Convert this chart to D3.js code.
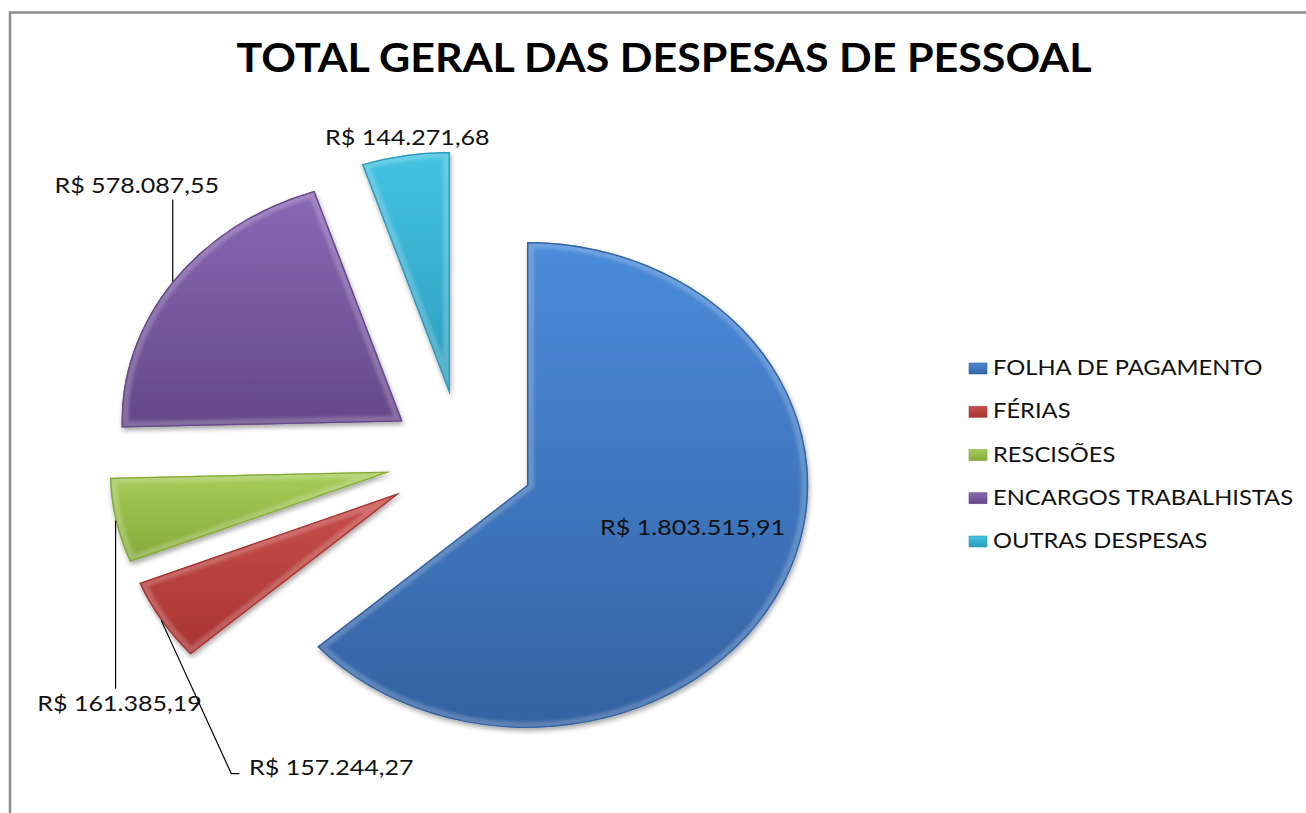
<!DOCTYPE html>
<html>
<head>
<meta charset="utf-8">
<script src="https://cdn.jsdelivr.net/npm/d3@7"></script>
<style>
  body { margin: 0; background: #fff; }
  text { font-family: Lato, "Open Sans", sans-serif; }
</style>
</head>
<body>
<svg id="chart"></svg>
<script>
// data
var categories = ["FOLHA DE PAGAMENTO", "FÉRIAS", "RESCISÕES", "ENCARGOS TRABALHISTAS", "OUTRAS DESPESAS"];
var values = [1803515.91, 157244.27, 161385.19, 578087.55, 144271.68];
var topColors = ["#4b8bdb", "#c8504c", "#a6cc58", "#8a68b4", "#45c3e2"];
var bottomColors = ["#3462a2", "#a83432", "#84aa3a", "#654889", "#2c9cbd"];
var title = "TOTAL GERAL DAS DESPESAS DE PESSOAL";

var width = 1306, height = 813;
var svg = d3.select("#chart").attr("width", width).attr("height", height);

var ptBR = d3.formatLocale({decimal: ",", thousands: ".", grouping: [3], currency: ["R$ ", ""]});
var money = ptBR.format("$,.2f");

// frame (only left and top edges are visible)
svg.append("rect").attr("x", 10).attr("y", 12.5)
   .attr("width", 1400).attr("height", 900)
   .attr("fill", "none").attr("stroke", "#8c8c8c").attr("stroke-width", 2.5);

// title
svg.append("text").attr("x", 664).attr("y", 72)
   .attr("text-anchor", "middle")
   .attr("font-size", 41).attr("font-weight", "bold")
   .attr("textLength", 855).attr("lengthAdjust", "spacingAndGlyphs")
   .attr("fill", "#000").text(title);

// defs: gradients, shadow, blur
var defs = svg.append("defs");
categories.forEach(function(c, i){
        var g = defs.append("linearGradient").attr("id", "grad" + i)
                .attr("x1", 0).attr("y1", 0).attr("x2", 0).attr("y2", 1);
        g.append("stop").attr("offset", "0%").attr("stop-color", topColors[i]);
        g.append("stop").attr("offset", "100%").attr("stop-color", bottomColors[i]);
});
var shadow = defs.append("filter").attr("id", "shadow")
        .attr("x", "-10%").attr("y", "-10%").attr("width", "130%").attr("height", "130%");
shadow.append("feDropShadow").attr("dx", 1).attr("dy", 3)
        .attr("stdDeviation", 2.5).attr("flood-color", "#000").attr("flood-opacity", 0.35);
defs.append("filter").attr("id", "soft").append("feGaussianBlur").attr("stdDeviation", 1.6);

// pie layout: ellipse (stretched horizontally), every slice exploded
var R = 243;             // vertical radius
var SX = 1.157;          // horizontal stretch of the pie
var cx = 461.4, cy = 458.6;
var explode = 64.5, explodeX = 1.115;

var pie = d3.pie().sort(null).value(d => d)(values);
var arc = d3.arc().innerRadius(0).outerRadius(R);

var slices = pie.map(function(p, i){
        var mid = (p.startAngle + p.endAngle) / 2;
        var ax = cx + explode * explodeX * Math.sin(mid);
        var ay = cy - explode * Math.cos(mid);
        return {p: p, i: i, mid: mid, ax: ax, ay: ay,
                ox: ax + R * SX * Math.sin(mid), oy: ay - R * Math.cos(mid)};
});

var pieG = svg.append("g").attr("class", "pie");
slices.forEach(function(s){
        var g = pieG.append("g")
                .attr("transform", "translate(" + s.ax + "," + s.ay + ") scale(" + SX + ",1)");
        var d = arc(s.p);
        defs.append("clipPath").attr("id", "clip" + s.i).append("path").attr("d", d);
        g.append("path").attr("d", d)
                .attr("fill", "url(#grad" + s.i + ")")
                .attr("filter", "url(#shadow)");
        // bevel highlight (inner band) and darker rim
        g.append("path").attr("d", d)
                .attr("clip-path", "url(#clip" + s.i + ")")
                .attr("fill", "none").attr("stroke", "#fff").attr("stroke-opacity", 0.2)
                .attr("stroke-width", 12).attr("filter", "url(#soft)");
        g.append("path").attr("d", d)
                .attr("clip-path", "url(#clip" + s.i + ")")
                .attr("fill", "none").attr("stroke", bottomColors[s.i])
                .attr("stroke-width", 2.5);
});

// data labels: offsets of the label (middle, baseline) from the outer mid point of each slice
var labelOffsets = [[-91, -49], [170, 154], [4, 190], [-36, -89], [2, -10]];
var labelKX = 1.14;
var labG = svg.append("g").attr("class", "labels");
slices.forEach(function(s){
        var lx = s.ox + labelOffsets[s.i][0];
        var ly = s.oy + labelOffsets[s.i][1];
        s.lx = lx; s.ly = ly;
        labG.append("text")
                .attr("transform", "translate(" + lx + "," + ly + ") scale(" + labelKX + ",1)")
                .attr("text-anchor", "middle").attr("font-size", 22).attr("fill", "#111")
                .text(money(values[s.i]));
});

// leader lines
var leaders = [
        null,
        function(s){ var x0 = s.lx - 82; return [[s.ox, s.oy], [x0 - 18, s.ly - 1], [x0 - 10, s.ly - 1]]; },
        function(s){ return [[s.ox, s.oy], [s.ox, s.ly - 22]]; },
        function(s){ return [[s.ox, s.oy], [s.ox, s.ly + 7]]; },
        null
];
slices.forEach(function(s){
        if(!leaders[s.i]) return;
        labG.append("path").attr("d", d3.line()(leaders[s.i](s)))
                .attr("fill", "none").attr("stroke", "#000").attr("stroke-width", 1.2);
});

// legend
var legendY = d3.scalePoint().domain(categories).range([375, 548]);
var legend = svg.append("g").attr("class", "legend");
categories.forEach(function(c, i){
        var y = legendY(c);
        legend.append("rect").attr("x", 969).attr("y", y - 12)
                .attr("width", 18).attr("height", 11)
                .attr("fill", "url(#grad" + i + ")")
                .attr("stroke", bottomColors[i]).attr("stroke-width", 0.6);
        legend.append("text")
                .attr("transform", "translate(993," + y + ") scale(1.13,1)")
                .attr("font-size", 21).attr("fill", "#111").text(c);
});
</script>
</body>
</html>
